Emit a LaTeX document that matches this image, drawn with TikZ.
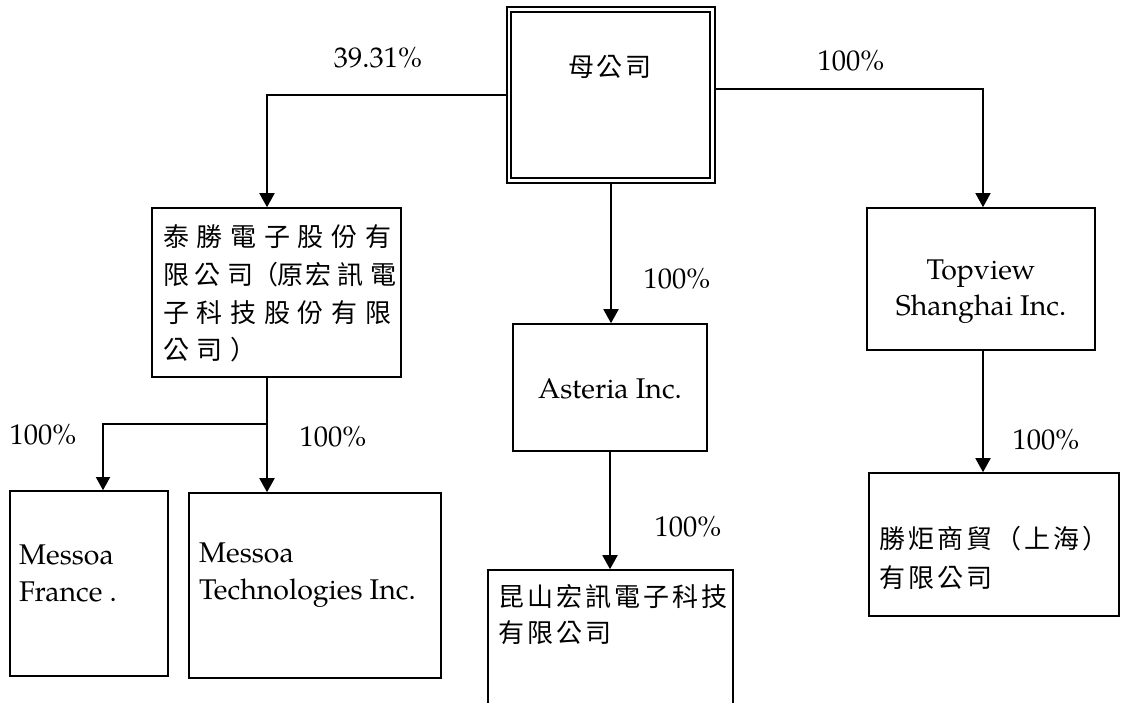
\documentclass[tikz,border=0pt]{standalone}
\usepackage{fontspec}
\setmainfont{texgyrepagella-regular.otf}
\newfontfamily\cjk{Noto Sans CJK TC}
\usetikzlibrary{arrows.meta}
\newcommand\jc[1]{\makebox[33.7pt][l]{#1}}
\newcommand\jw[2]{\makebox[#1pt][l]{#2}}
\newcommand\jk[1]{\makebox[29pt][l]{#1}}
\begin{document}
\begin{tikzpicture}[x=1pt,y=-1pt,
  box/.style={draw, rectangle, line width=1.6pt, inner sep=0pt},
  lat/.style={inner sep=0pt, font=\fontsize{28.5}{37}\selectfont},
  cjkt/.style={inner sep=0pt, font=\cjk\fontsize{26}{37.7}\selectfont},
  conn/.style={line width=1.9pt, -{Triangle[width=15pt,length=14pt]}},
  thinconn/.style={line width=1.3pt, -{Triangle[width=14pt,length=13pt]}}
]
\clip (0,0) rectangle (1122,702);
\fill[white] (0,0) rectangle (1122,702);

% parent
\node[box, line width=2pt, minimum width=208pt, minimum height=176pt] (parent) at (611,95) {};
\draw[line width=1.2pt] ([shift={(5pt,-6pt)}]parent.north west) rectangle ([shift={(-6pt,6pt)}]parent.south east);
\node[cjkt] (ptext) at (610,67) {\jk{母}\jk{公}司};

% box 1
\node[box, minimum width=249pt, minimum height=169pt] (b1) at (276.5,292.5) {};
\node[cjkt, anchor=west, align=left] (b1t) at (163,293.5)
  {\jc{泰}\jc{勝}\jc{電}\jc{子}\jc{股}\jc{份}有\\
   \jw{31}{限}\jw{33}{公}\jw{25}{司}\jw{25}{（}\jw{28}{原}\jw{32}{宏}\jw{33}{訊}電\\
   \jc{子}\jc{科}\jc{技}\jc{股}\jc{份}\jc{有}限\\
   \jc{公}\jc{司}）};

% Asteria
\node[box, minimum width=194pt, minimum height=127pt] (ast) at (610,387.5) {};
\node[lat] (astt) at (610,389) {Asteria Inc.};

% Kunshan
\node[box, minimum width=245pt, minimum height=150pt] (ks) at (610.5,645) {};
\node[cjkt, anchor=west, align=left, font=\cjk\fontsize{26}{36}\selectfont] (kst) at (498,615)
  {\jk{昆}\jk{山}\jk{宏}\jk{訊}\jk{電}\jk{子}\jk{科}技\\\jk{有}\jk{限}\jk{公}司};

% Topview
\node[box, minimum width=228pt, minimum height=142pt] (tv) at (981,279) {};
\node[lat, align=center, font=\fontsize{28.5}{36}\selectfont] (tvt) at (981,292) {Topview\\Shanghai Inc.};

% Shengju
\node[box, minimum width=250pt, minimum height=143pt] (sj) at (994,544.5) {};
\node[cjkt, anchor=west, align=left, font=\cjk\fontsize{26}{39}\selectfont] (sjt) at (879,557.5)
  {\jk{勝}\jk{炬}\jk{商}\jk{貿}\jk{（}\jk{上}\jk{海}）\\\jk{有}\jk{限}\jk{公}司};

% Messoa France
\node[box, minimum width=158pt, minimum height=185pt] (fr) at (89,583.5) {};
\node[lat, anchor=west, align=left] (frt) at (19,573.5) {Messoa\\France .};

% Messoa Technologies
\node[box, minimum width=252pt, minimum height=185pt] (te) at (315,585.5) {};
\node[lat, anchor=west, align=left] (tet) at (199,575.5) {Messoa\\Technologies Inc.};

% labels
\node[lat] (l1) at (378,58) {39.31\%};
\node[lat] (l2) at (851,61) {100\%};
\node[lat] (l3) at (677,279) {100\%};
\node[lat] (l4) at (688,527) {100\%};
\node[lat] (l5) at (1046,440) {100\%};
\node[lat] (l6) at (43,435) {100\%};
\node[lat] (l7) at (333,437) {100\%};

% connectors
\draw[conn] (parent.west) -| ([xshift=-9.5pt]b1.north);
\draw[conn, line width=1.4pt] ([yshift=6pt]parent.east) -| ([xshift=2pt]tv.north);
\draw[conn] (parent.south) -- (parent.south |- ast.north);
\draw[conn] (ast.south) -- (ast.south |- ks.north);
\draw[conn] ([xshift=2pt]tv.south) -- ([xshift=2pt]tv.south |- sj.north);
\draw[conn] ([xshift=-9.5pt]b1.south) -- ([xshift=-9.5pt]b1.south |- te.north);
\coordinate (br) at (267,424);
\draw[thinconn] (br) -| ([xshift=14pt]fr.north);
\end{tikzpicture}
\end{document}
